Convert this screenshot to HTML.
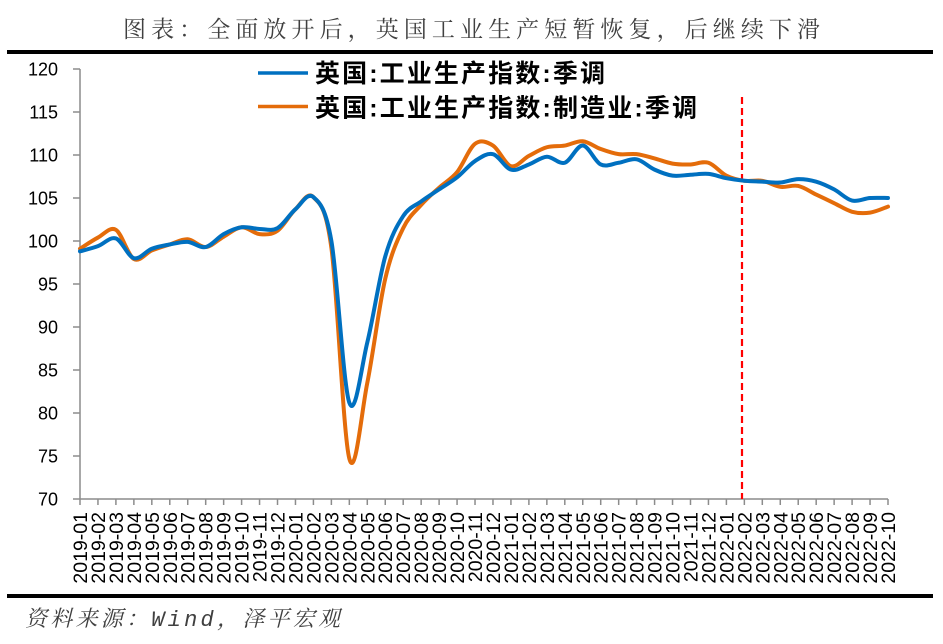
<!DOCTYPE html>
<html>
<head>
<meta charset="utf-8">
<style>
  html,body{margin:0;padding:0;background:#fff;}
  body{width:943px;height:644px;overflow:hidden;}
  svg{display:block;}
  .cjk{font-family:"Liberation Sans","Noto Sans CJK SC",sans-serif;}
</style>
</head>
<body>
<svg id="chart" width="943" height="644" viewBox="0 0 943 644" xmlns="http://www.w3.org/2000/svg">
  <rect x="0" y="0" width="943" height="644" fill="#fff"/>
  <!-- title -->
  <text x="123" y="37" font-family="'Noto Serif CJK SC','Noto Sans CJK SC',serif" font-size="23" fill="#404040" textLength="697" lengthAdjust="spacing">图表：全面放开后，英国工业生产短暂恢复，后继续下滑</text>
  <rect x="7" y="50" width="926" height="4" fill="#000"/>
  <rect x="7" y="594" width="926" height="4" fill="#000"/>
  <!-- source -->
  <text x="25" y="626" font-family="'Liberation Serif','Noto Serif CJK SC',serif" font-style="italic" font-size="22" fill="#404040" textLength="315" lengthAdjust="spacing">资料来源：<tspan font-family="'Liberation Mono',monospace">Wind</tspan>，泽平宏观</text>

  <!-- axes -->
  <g id="axes" stroke="#8c8c8c" stroke-width="1.5" fill="none">
    <line x1="80" y1="69" x2="80" y2="499"/>
    <line x1="80" y1="499" x2="888" y2="499"/>
  </g>
  <g id="yticks"></g>
  <g id="xticks"></g>

  <!-- red dashed -->
  <line x1="742" y1="97" x2="742" y2="499" stroke="#ff0000" stroke-width="2.2" stroke-dasharray="7,4"/>

  <path id="orange" fill="none" stroke="#e46c0a" stroke-width="4" stroke-linejoin="round" stroke-linecap="round"/>
  <path id="blue" fill="none" stroke="#0070c0" stroke-width="4" stroke-linejoin="round" stroke-linecap="round"/>

  <!-- legend -->
  <line x1="258" y1="73" x2="308" y2="73" stroke="#0070c0" stroke-width="3.5"/>
  <line x1="258" y1="106.5" x2="308" y2="106.5" stroke="#e46c0a" stroke-width="3.5"/>
  <text x="315" y="81.8" class="cjk" font-weight="bold" font-size="25" fill="#000" textLength="290" lengthAdjust="spacing">英国:工业生产指数:季调</text>
  <text x="315" y="116.3" class="cjk" font-weight="bold" font-size="25" fill="#000" textLength="382" lengthAdjust="spacing">英国:工业生产指数:制造业:季调</text>
</svg>
<script>
(function(){
  var NS="http://www.w3.org/2000/svg";
  var blue=[98.8,99.4,100.3,98.0,99.1,99.6,99.9,99.3,100.8,101.6,101.4,101.5,103.7,105.1,100.0,81.2,88.2,98.2,102.9,104.6,106.0,107.4,109.3,110.1,108.3,108.9,109.8,109.1,111.1,108.9,109.1,109.5,108.3,107.6,107.7,107.8,107.3,107.0,106.9,106.8,107.2,106.9,106.0,104.7,105.0,105.0];
  var orange=[99.1,100.4,101.3,97.9,98.9,99.6,100.2,99.3,100.5,101.6,100.8,101.2,103.7,105.1,99.2,74.7,83.5,95.6,101.5,104.2,106.2,108.0,111.3,111.1,108.7,109.9,110.9,111.1,111.6,110.7,110.1,110.1,109.6,109.0,108.9,109.1,107.6,107.0,107.0,106.3,106.4,105.4,104.4,103.4,103.3,104.0];
  var step=808/45;
  function X(i){return 80+i*step;}
  function Y(v){return 499-(v-70)*8.6;}
  function path(d){
    var p=d.map(function(v,i){return [X(i),Y(v)];});
    var s="M"+p[0][0].toFixed(2)+","+p[0][1].toFixed(2);
    for(var i=0;i<p.length-1;i++){
      var p0=p[i>0?i-1:i],p1=p[i],p2=p[i+1],p3=p[i+2<p.length?i+2:i+1];
      var c1x=p1[0]+(p2[0]-p0[0])/6,c1y=p1[1]+(p2[1]-p0[1])/6;
      var c2x=p2[0]-(p3[0]-p1[0])/6,c2y=p2[1]-(p3[1]-p1[1])/6;
      s+=" C"+c1x.toFixed(2)+","+c1y.toFixed(2)+" "+c2x.toFixed(2)+","+c2y.toFixed(2)+" "+p2[0].toFixed(2)+","+p2[1].toFixed(2);
    }
    return s;
  }
  document.getElementById("blue").setAttribute("d",path(blue));
  document.getElementById("orange").setAttribute("d",path(orange));

  var yt=document.getElementById("yticks");
  for(var v=70;v<=120;v+=5){
    var y=Y(v);
    var l=document.createElementNS(NS,"line");
    l.setAttribute("x1",73);l.setAttribute("x2",80);l.setAttribute("y1",y);l.setAttribute("y2",y);
    l.setAttribute("stroke","#8c8c8c");l.setAttribute("stroke-width","1.5");
    yt.appendChild(l);
    var t=document.createElementNS(NS,"text");
    t.setAttribute("x",58);t.setAttribute("y",y+6.5);
    t.setAttribute("text-anchor","end");
    t.setAttribute("font-family","'Liberation Sans',sans-serif");
    t.setAttribute("font-size","18");t.setAttribute("fill","#000");
    t.textContent=v;
    yt.appendChild(t);
  }
  var xt=document.getElementById("xticks");
  var idx=0;
  for(var yr=2019;yr<=2022;yr++){
    for(var m=1;m<=12;m++){
      if(yr==2022&&m>10)break;
      var x=X(idx);
      var l2=document.createElementNS(NS,"line");
      l2.setAttribute("x1",x);l2.setAttribute("x2",x);l2.setAttribute("y1",499);l2.setAttribute("y2",505);
      l2.setAttribute("stroke","#8c8c8c");l2.setAttribute("stroke-width","1.5");
      xt.appendChild(l2);
      var t2=document.createElementNS(NS,"text");
      var bx=x+7;
      t2.setAttribute("x",bx);t2.setAttribute("y",512);
      t2.setAttribute("transform","rotate(-90 "+bx+" 512)");
      t2.setAttribute("text-anchor","end");
      t2.setAttribute("font-family","'Liberation Sans',sans-serif");
      t2.setAttribute("font-size","19.5");t2.setAttribute("fill","#000");
      t2.textContent=yr+"-"+(m<10?"0"+m:m);
      xt.appendChild(t2);
      idx++;
    }
  }
})();
</script>
</body>
</html>
